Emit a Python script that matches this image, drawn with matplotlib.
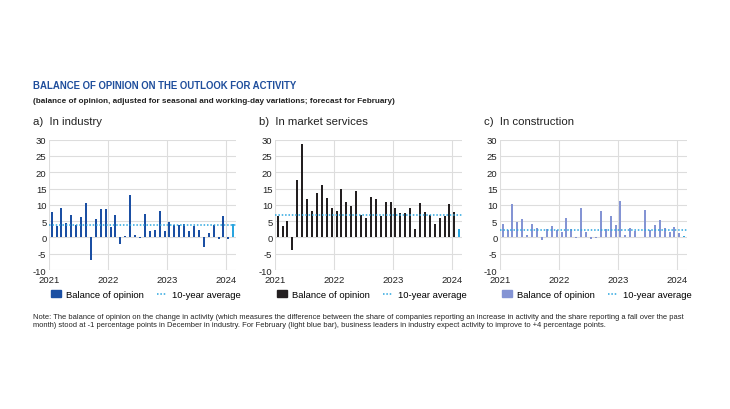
import matplotlib
matplotlib.use('Agg')
import matplotlib.pyplot as plt
from matplotlib.patches import Patch
from matplotlib.lines import Line2D

# monthly balance of opinion, Jan 2021 .. Jan 2024 (+ Feb 2024 forecast)
industry = [7.7, 3.4, 9.0, 4.3, 6.8, 3.9, 6.3, 10.5, -7.0, 5.6, 8.6, 8.8,
            3.1, 6.8, -2.0, 0.3, 13.0, 0.6, -0.3, 7.1, 2.0, 2.4, 8.0, 1.9,
            4.6, 3.8, 3.9, 4.0, 2.1, 3.4, 2.3, -3.0, 1.5, 3.9, -0.4, 6.7,
            -0.5]
industry_forecast = 4.0
industry_avg = 3.9

services = [6.7, 3.4, 4.9, -4.0, 17.6, 28.6, 11.7, 8.0, 13.6, 16.2, 12.2, 8.9,
            8.1, 15.0, 10.8, 9.7, 14.2, 6.9, 6.1, 12.4, 11.8, 6.7, 11.0, 11.0,
            8.9, 7.6, 7.5, 9.0, 2.7, 10.7, 7.7, 6.9, 4.2, 6.1, 6.7, 10.4,
            7.7]
services_forecast = 2.7
services_avg = 6.8

construction = [4.0, 2.4, 10.2, 4.6, 5.5, 0.6, 4.1, 3.0, -0.8, 2.5, 3.6, 2.4,
                1.8, 6.1, 2.5, -0.1, 9.0, 1.8, -0.5, -0.3, 8.0, 2.5, 6.6, 3.8,
                11.2, 0.7, 2.9, 2.1, 0.1, 8.3, 2.2, 3.8, 5.4, 2.8, 1.8, 3.3,
                1.3]
construction_forecast = 0.5
construction_avg = 2.4

years = [2021, 2022, 2023, 2024]
panel_titles = ['a)  In industry', 'b)  In market services', 'c)  In construction']

FONT = ['Liberation Sans Narrow', 'Liberation Sans', 'DejaVu Sans']
plt.rcParams['font.family'] = FONT
plt.rcParams['axes.unicode_minus'] = False

fig = plt.figure(figsize=(7.3, 4.1), dpi=100)

fig.text(0.045, 0.790, 'BALANCE OF OPINION ON THE OUTLOOK FOR ACTIVITY',
         fontsize=6.95, fontweight='bold', color='#1f4e9c', va='center',
         family=['Liberation Sans', 'DejaVu Sans'])
fig.text(0.045, 0.753, '(balance of opinion, adjusted for seasonal and working-day '
         'variations; forecast for February)',
         fontsize=5.85, fontweight='bold', color='#222222', va='center',
         family=['Liberation Sans', 'DejaVu Sans'])

panels = [
    (industry, industry_forecast, industry_avg, '#1b4fa3', 0.0674),
    (services, services_forecast, services_avg, '#231f20', 0.3770),
    (construction, construction_forecast, construction_avg, '#8494d4', 0.6852),
]
light_blue = '#2aa5df'

for i, (vals, fc, avg, col, left) in enumerate(panels):
    ax = fig.add_axes([left, 0.339, 0.2555, 0.318])
    x = [2021 + (m + 0.5) / 12 for m in range(len(vals))]
    xf = 2021 + (len(vals) + 0.5) / 12
    ax.bar(x, vals, width=0.4 / 12, color=col, zorder=2)
    ax.bar([xf], [fc], width=0.4 / 12, color=light_blue, zorder=2)
    ax.axhline(avg, color=light_blue, lw=1.1, ls=(0, (1, 1.2)), zorder=3)
    ax.set_xlim(2021, 2021 + (len(vals) + 1) / 12)
    ax.set_ylim(-10, 30)
    ax.set_yticks(range(-10, 31, 5))
    ax.set_xticks(years)
    ax.set_xticklabels([str(y) for y in years])
    ax.grid(True, color='#dddddd', lw=0.8, zorder=0)
    ax.set_axisbelow(True)
    for s in ax.spines.values():
        s.set_visible(False)
    ax.tick_params(length=0, labelsize=6.8, colors='#222222', pad=2)
    ax.tick_params(axis='x', pad=3.5)
    ax.text(-0.085, 1.145, panel_titles[i], transform=ax.transAxes,
            fontsize=8.2, color='#222222', va='center', ha='left',
            family=['Liberation Sans', 'DejaVu Sans'])
    handles = [Patch(color=col), Line2D([], [], color=light_blue, lw=1.1, ls=(0, (1, 1.2)))]
    ax.legend(handles, ['Balance of opinion', '10-year average'], ncol=2,
              loc='upper left', bbox_to_anchor=(-0.01, -0.125), frameon=False,
              fontsize=6.8, handlelength=1.0, handleheight=0.8,
              columnspacing=1.4, handletextpad=0.6, borderaxespad=0)

fig.text(0.045, 0.235,
         'Note: The balance of opinion on the change in activity (which measures the difference '
         'between the share of companies reporting an increase in activity and the share reporting '
         'a fall over the past\nmonth) stood at -1 percentage points in December in industry. For '
         'February (light blue bar), business leaders in industry expect activity to improve to '
         '+4 percentage points.',
         fontsize=5.45, color='#222222', va='top', linespacing=1.2)

fig.savefig('out.png', dpi=100)
